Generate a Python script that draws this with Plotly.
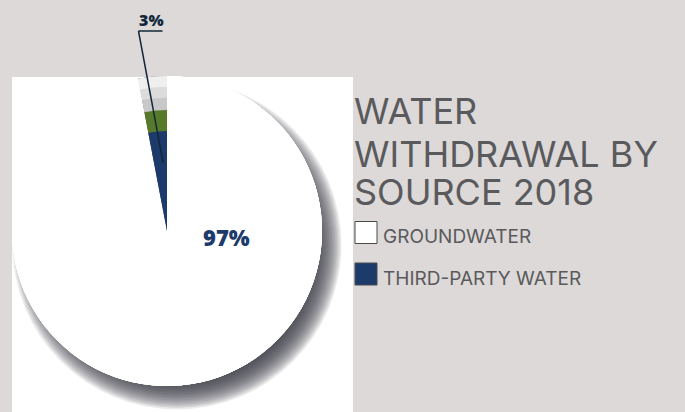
import math
import plotly.graph_objects as go

# ---- data -------------------------------------------------------------
sources = ["GROUNDWATER", "THIRD-PARTY WATER"]
shares = [97, 3]
title_lines = ["WATER", "WITHDRAWAL BY", "SOURCE 2018"]

# ---- styling ----------------------------------------------------------
W, H = 685, 412
BG = "#dcd9d8"
NAVY = "#1c3a6a"
GREEN = "#56792a"
INK = "#5a5a5d"
LABEL_INK = "#12283a"
slice_colors = ["#ffffff", NAVY]

# pie geometry in pixels (centre and radius)
cx, cy, R = 167, 231, 155


def px(x):
    return x / W


def py(y):
    return 1 - y / H


domain = dict(x=[px(cx - R), px(cx + R)], y=[py(cy + R), py(cy - R)])
total = sum(shares)

fig = go.Figure()

# base pie plus stacked rings that give the small slice its extruded look
rings = [
    (0.0, NAVY),
    (0.645, GREEN),
    (0.78, "#c8c8c8"),
    (0.86, "#dcdcdc"),
    (0.93, "#efefef"),
]
for hole, col in rings:
    fig.add_trace(go.Pie(
        values=shares,
        labels=sources,
        sort=False,
        direction="clockwise",
        rotation=0,
        hole=hole,
        textinfo="none",
        hoverinfo="label+percent",
        marker=dict(colors=[slice_colors[0], col], line=dict(width=0)),
        domain=domain,
        showlegend=False,
    ))

shapes = []
# white panel behind the pie
shapes.append(dict(type="rect", xref="paper", yref="paper", layer="below",
                   x0=px(12), x1=px(353), y0=py(412), y1=py(77),
                   fillcolor="#ffffff", line=dict(width=0)))
# soft drop shadow built from stacked translucent discs
sdx, sdy = 10, 14
for k in range(18):
    r = R - 16 + k * 1.5
    shapes.append(dict(type="circle", xref="paper", yref="paper", layer="below",
                       x0=px(cx + sdx - r), x1=px(cx + sdx + r),
                       y0=py(cy + sdy + r), y1=py(cy + sdy - r),
                       fillcolor="rgba(62,62,68,0.10)", line=dict(width=0)))

# leader line for the small slice
ang = -math.radians(shares[1] / total * 360 * 0.3)
ex, ey = cx + 0.44 * R * math.sin(ang), cy - 0.44 * R * math.cos(ang)
kx, ky = 138.5, 31
shapes.append(dict(type="line", xref="paper", yref="paper",
                   x0=px(kx), y0=py(ky), x1=px(ex), y1=py(ey),
                   line=dict(color=LABEL_INK, width=1.5)))
shapes.append(dict(type="line", xref="paper", yref="paper",
                   x0=px(kx), y0=py(ky), x1=px(162.5), y1=py(ky),
                   line=dict(color=LABEL_INK, width=1.5)))

# legend swatches
legend_rows = [235.5, 277]
for yc, col in zip(legend_rows, slice_colors):
    shapes.append(dict(type="rect", xref="paper", yref="paper",
                       x0=px(355), x1=px(377), y0=py(yc + 8), y1=py(yc - 14),
                       fillcolor=col, line=dict(color="#4a4a4d", width=1)))

annotations = []
annotations.append(dict(text=f"{shares[1]}%", x=px(151), y=py(20),
                        xref="paper", yref="paper", showarrow=False,
                        xanchor="center", yanchor="middle",
                        font=dict(family="Open Sans", size=16, weight=800, color=LABEL_INK)))
annotations.append(dict(text=f"{shares[0]}%", x=px(226.5), y=py(237),
                        xref="paper", yref="paper", showarrow=False,
                        xanchor="center", yanchor="middle",
                        font=dict(family="Open Sans", size=22, weight=800, color=NAVY)))

for line, yc in zip(title_lines, [109.5, 152, 190]):
    annotations.append(dict(text=line, x=px(352), y=py(yc + 2), xref="paper", yref="paper",
                            xanchor="left", yanchor="middle", showarrow=False,
                            font=dict(family="Inter", size=36, color=INK)))

for name, yc in zip(sources, legend_rows):
    annotations.append(dict(text=name, x=px(381), y=py(yc + 1), xref="paper", yref="paper",
                            xanchor="left", yanchor="middle", showarrow=False,
                            font=dict(family="Inter", size=19, color=INK)))

fig.update_layout(
    width=W, height=H,
    margin=dict(l=0, r=0, t=0, b=0),
    paper_bgcolor=BG, plot_bgcolor=BG,
    shapes=shapes,
    annotations=annotations,
    showlegend=False,
)

fig.write_html("out.html")
